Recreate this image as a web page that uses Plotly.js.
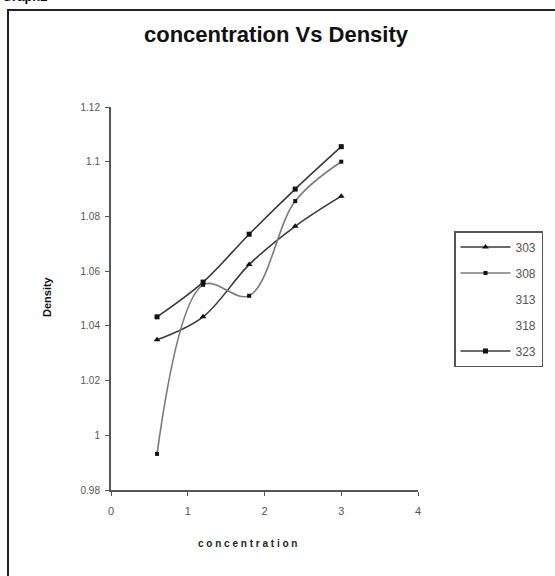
<!DOCTYPE html>
<html>
<head>
<meta charset="utf-8">
<script src="https://cdn.plot.ly/plotly-3.0.1.min.js"></script>
<style>
html,body{margin:0;padding:0;background:#fff;}
#chart{width:555px;height:576px;}
</style>
</head>
<body>
<div id="chart"></div>
<script>
// ---- data ----
const concentration = [0.6, 1.2, 1.8, 2.4, 3.0];
const density303 = [1.0349, 1.0433, 1.0624, 1.0764, 1.0874];
const density308 = [0.9932, 1.0550, 1.0510, 1.0856, 1.1000];
const density313 = [];
const density318 = [];
const density323 = [1.0433, 1.0560, 1.0735, 1.0900, 1.1055];
const seriesNames = ["303", "308", "313", "318", "323"];
const xTickVals = [0, 1, 2, 3, 4];
const xTickText = ["0", "1", "2", "3", "4"];
const yTickVals = [0.98, 1.0, 1.02, 1.04, 1.06, 1.08, 1.1, 1.12];
const yTickText = ["0.98", "1", "1.02", "1.04", "1.06", "1.08", "1.1", "1.12"];

const FONT = "Liberation Sans, Arial, sans-serif";

// layout geometry (pixels)
const W = 555, H = 576;
const mL = 111, mR = 137, mT = 107, mB = 86;
const pw = W - mL - mR, ph = H - mT - mB;
const px = x => (x - mL) / pw;
const py = y => (H - mB - y) / ph;

const traces = [
  {x: concentration, y: density303, name: seriesNames[0], mode: "lines+markers", legendgroup: "a",
   line: {color: "#3a3a3a", width: 1.6, shape: "spline", smoothing: 1},
   marker: {symbol: "triangle-up", size: 6, color: "#111"}},
  {x: concentration, y: density308, name: seriesNames[1], mode: "lines+markers", legendgroup: "b",
   line: {color: "#7a7a7a", width: 1.6, shape: "spline", smoothing: 1},
   marker: {symbol: "square", size: 4, color: "#111"}},
  {x: density313.length ? concentration : [null], y: density313.length ? density313 : [null], name: seriesNames[2], mode: "lines", legendgroup: "c",
   line: {color: "rgba(0,0,0,0)", width: 1}},
  {x: density318.length ? concentration : [null], y: density318.length ? density318 : [null], name: seriesNames[3], mode: "lines", legendgroup: "d",
   line: {color: "rgba(0,0,0,0)", width: 1}},
  {x: concentration, y: density323, name: seriesNames[4], mode: "lines+markers", legendgroup: "e",
   line: {color: "#3a3a3a", width: 1.6, shape: "spline", smoothing: 1},
   marker: {symbol: "square", size: 5, color: "#111"}}
];

const layout = {
  width: W, height: H,
  margin: {l: mL, r: mR, t: mT, b: mB, pad: 0},
  paper_bgcolor: "#fff", plot_bgcolor: "#fff",
  font: {family: FONT, color: "#333"},
  title: {text: "<b>concentration Vs Density</b>", font: {family: FONT, size: 22, color: "#111"},
          xref: "paper", x: px(276), xanchor: "center", yref: "container", y: 1 - 34 / H, yanchor: "middle"},
  xaxis: {range: [0, 4], tickvals: xTickVals, ticktext: xTickText, showgrid: false, zeroline: false,
          showline: true, linecolor: "#555", linewidth: 2, ticks: "outside", ticklen: 4, tickcolor: "#555",
          ticklabelstandoff: 6,
          tickfont: {family: FONT, size: 11, color: "#555"}, fixedrange: true},
  yaxis: {range: [0.98, 1.12], tickvals: yTickVals, ticktext: yTickText, showgrid: false, zeroline: false,
          showline: true, linecolor: "#555", linewidth: 2, ticks: "outside", ticklen: 4, tickcolor: "#555",
          ticklabelstandoff: 3,
          tickfont: {family: FONT, size: 10, color: "#555"}, fixedrange: true},
  showlegend: true,
  legend: {x: px(454), xanchor: "left", y: py(231), yanchor: "top",
           bordercolor: "#555", borderwidth: 1.5, bgcolor: "#fff",
           font: {family: FONT, size: 12, color: "#555"},
           itemwidth: 50, tracegroupgap: 7, traceorder: "grouped"},
  shapes: [
    {type: "rect", xref: "paper", yref: "paper", x0: px(8), x1: px(562), y0: py(582), y1: py(10),
     line: {color: "#222", width: 2}, fillcolor: "rgba(0,0,0,0)", layer: "below"}
  ],
  annotations: [
    {text: "<b>c o n c e n t r a t i o n</b>", xref: "paper", yref: "paper",
     x: px(247), y: py(543), xanchor: "center", yanchor: "middle", showarrow: false,
     font: {family: FONT, size: 10, color: "#222"}},
    {text: "<b>Density</b>", xref: "paper", yref: "paper", x: px(47), y: py(297), textangle: -90,
     xanchor: "center", yanchor: "middle", showarrow: false, font: {family: FONT, size: 11, color: "#111"}},
    {text: "<b>Graph2</b>", xref: "paper", yref: "paper", x: px(0), y: py(6), xanchor: "left", yanchor: "bottom",
     showarrow: false, font: {family: FONT, size: 13, color: "#111"}}
  ]
};

Plotly.newPlot("chart", traces, layout, {displayModeBar: false, staticPlot: true});
</script>
</body>
</html>
